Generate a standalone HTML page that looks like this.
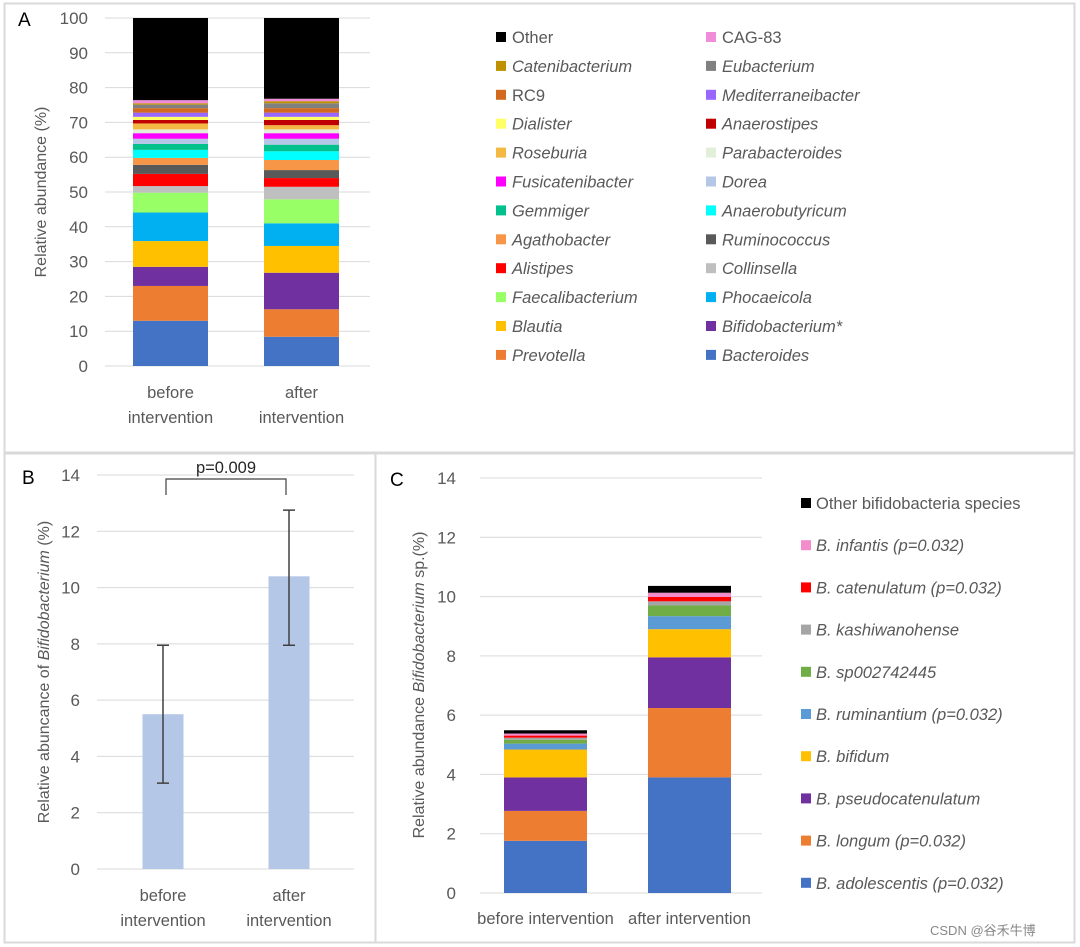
<!DOCTYPE html>
<html><head><meta charset="utf-8">
<style>
html,body{margin:0;padding:0;background:#fff;}
svg{display:block;font-family:"Liberation Sans",sans-serif;}
</style></head>
<body>
<svg id="fig" width="1080" height="947" viewBox="0 0 1080 947">
  <rect x="0" y="0" width="1080" height="947" fill="#fff"/>
  <rect x="4.5" y="3.5" width="1070" height="449" fill="none" stroke="#d9d9d9" stroke-width="2"/>
  <rect x="4.5" y="453.5" width="371" height="489" fill="none" stroke="#d9d9d9" stroke-width="2"/>
  <rect x="375.5" y="453.5" width="699" height="489" fill="none" stroke="#d9d9d9" stroke-width="2"/>
  <text x="18" y="26" font-size="19" fill="#000">A</text>
  <text x="22" y="484" font-size="19" fill="#000">B</text>
  <text x="390" y="486" font-size="19" fill="#000">C</text>
  <g id="ga"></g><g id="gb"></g><g id="gc"></g>
  <text x="930" y="935" font-size="13" fill="#888">CSDN @谷禾牛博</text>
</svg>
<script>
// ---- Panel A data ----
const groupsA = ["before|intervention","after|intervention"];
const taxaA = ["Bacteroides","Prevotella","Bifidobacterium*","Blautia","Phocaeicola","Faecalibacterium","Collinsella","Alistipes","Ruminococcus","Agathobacter","Anaerobutyricum","Gemmiger","Dorea","Fusicatenibacter","Parabacteroides","Roseburia","Anaerostipes","Dialister","Mediterraneibacter","RC9","Eubacterium","Catenibacterium","CAG-83","Other"];
const beforeA = [13.0,10.0,5.5,7.4,8.2,5.7,1.9,3.5,2.6,2.0,2.3,1.7,1.5,1.6,1.1,1.7,1.0,0.9,1.2,1.3,1.0,0.4,0.9,23.6];
const afterA  = [8.4,7.9,10.5,7.7,6.5,6.9,3.6,2.5,2.3,2.9,2.5,1.9,1.7,1.6,1.1,1.2,1.5,0.9,1.2,1.3,1.4,0.6,0.7,23.2];
const ticksA = [0,10,20,30,40,50,60,70,80,90,100];
const colorsA = ["#4472C4","#ED7D31","#7030A0","#FFC000","#00B0F0","#99FF66","#BFBFBF","#FF0000","#595959","#F79646","#00FFFF","#00C08B","#B4C7E7","#FF00FF","#E2EFDA","#F4B942","#C00000","#FFFF66","#9966FF","#D2691E","#808080","#BF9000","#F08CD8","#000000"];
const plainA = ["Other","RC9","CAG-83"];

// ---- Panel B data ----
const groupsB = ["before|intervention","after|intervention"];
const meanB = [5.5,10.4];
const lowB = [3.05,7.95];
const highB = [7.95,12.75];
const ticksB = [0,2,4,6,8,10,12,14];

// ---- Panel C data ----
const groupsC = ["before intervention","after intervention"];
const speciesC = ["B. adolescentis (p=0.032)","B. longum (p=0.032)","B. pseudocatenulatum","B. bifidum","B. ruminantium (p=0.032)","B. sp002742445","B. kashiwanohense","B. catenulatum (p=0.032)","B. infantis (p=0.032)","Other bifidobacteria species"];
const beforeC = [1.76,1.01,1.13,0.94,0.2,0.13,0.07,0.07,0.07,0.11];
const afterC  = [3.9,2.34,1.71,0.95,0.44,0.36,0.14,0.15,0.14,0.23];
const ticksC = [0,2,4,6,8,10,12,14];
const colorsC = ["#4472C4","#ED7D31","#7030A0","#FFC000","#5B9BD5","#70AD47","#A5A5A5","#FF0000","#F28CCB","#000000"];

const NS="http://www.w3.org/2000/svg";
function mk(parent,tag,attrs,txt){const e=document.createElementNS(NS,tag);for(const k in attrs)e.setAttribute(k,attrs[k]);if(txt!==undefined)e.textContent=txt;parent.appendChild(e);return e;}

// ===== Panel A =====
(function(){
  const g=document.getElementById('ga');
  const y0=366,y1=18,vmax=100;
  const y=v=>y0-(y0-y1)*v/vmax;
  ticksA.forEach(t=>{
    const l=mk(g,'line',{x1:105,x2:370,y1:y(t),y2:y(t),stroke:'#d9d9d9','stroke-width':1});
    
    
    const tx=mk(g,'text',{x:88,y:y(t)+6,'text-anchor':'end','font-size':17,fill:'#595959'},String(t));
    
    
  });
  const yt=mk(g,'text',{transform:'translate(46,192) rotate(-90)','text-anchor':'middle','font-size':16,fill:'#595959'},'Relative abundance (%)');
  
  
  const series=[beforeA,afterA], xs=[133,264], bw=75;
  series.forEach((vals,gi)=>{
    let cum=0;
    vals.forEach((v,i)=>{
      const r=mk(g,'rect',{x:xs[gi],y:y(cum+v),width:bw,height:y(cum)-y(cum+v),fill:colorsA[i]});
      
      
      cum+=v;
    });
    const parts=groupsA[gi].split('|');
    parts.forEach((p,pi)=>{
      const t=mk(g,'text',{x:xs[gi]+bw/2,y:398+pi*25,'text-anchor':'middle','font-size':16.5,fill:'#595959'},p);
      
      
    });
  });
  const rev=taxaA.map((n,i)=>i).reverse();
  rev.forEach((idx,k)=>{
    const col=k%2,row=Math.floor(k/2);
    const lx=col?706:496, ly=37+row*28.9;
    const s=mk(g,'rect',{x:lx,y:ly-5,width:10,height:10,fill:colorsA[idx]});
    
    
    const name=taxaA[idx];
    const t=mk(g,'text',{x:lx+16,y:ly+6,'font-size':16.5,fill:'#595959','font-style':plainA.includes(name)?'normal':'italic'},name);
    
    
  });
})();

// ===== Panel B =====
(function(){
  const g=document.getElementById('gb');
  const y0=869,y1=475,vmax=14;
  const y=v=>y0-(y0-y1)*v/vmax;
  ticksB.forEach(t=>{
    const l=mk(g,'line',{x1:97,x2:354,y1:y(t),y2:y(t),stroke:'#d9d9d9','stroke-width':1});
    
    
    const tx=mk(g,'text',{x:80,y:y(t)+6,'text-anchor':'end','font-size':17,fill:'#595959'},String(t));
    
    
  });
  const yt=mk(g,'text',{transform:'translate(49,672) rotate(-90)','text-anchor':'middle','font-size':16,fill:'#595959'});
  
  
  mk(yt,'tspan',{},'Relative abuncance of ');
  mk(yt,'tspan',{'font-style':'italic'},'Bifidobacterium');
  mk(yt,'tspan',{},' (%)');
  const cx=[163,289], bw=41;
  meanB.forEach((m,i)=>{
    const r=mk(g,'rect',{x:cx[i]-bw/2,y:y(m),width:bw,height:y0-y(m),fill:'#B4C7E7'});
    
    
    const e=mk(g,'path',{d:`M${cx[i]} ${y(lowB[i])}V${y(highB[i])}M${cx[i]-6} ${y(lowB[i])}h12M${cx[i]-6} ${y(highB[i])}h12`,stroke:'#404040','stroke-width':1.5,fill:'none'});
    
    
    groupsB[i].split('|').forEach((p,pi)=>{
      const t=mk(g,'text',{x:cx[i],y:901+pi*25,'text-anchor':'middle','font-size':16.5,fill:'#595959'},p);
      
      
    });
  });
  const br=mk(g,'path',{d:'M166 495V479H286V495',stroke:'#404040','stroke-width':1.2,fill:'none'});
  
  
  const pt=mk(g,'text',{x:226,y:473,'text-anchor':'middle','font-size':16.5,fill:'#262626'},'p=0.009');
  
  
})();

// ===== Panel C =====
(function(){
  const g=document.getElementById('gc');
  const y0=893,y1=478,vmax=14;
  const y=v=>y0-(y0-y1)*v/vmax;
  ticksC.forEach(t=>{
    const l=mk(g,'line',{x1:480,x2:762,y1:y(t),y2:y(t),stroke:'#d9d9d9','stroke-width':1});
    
    
    const tx=mk(g,'text',{x:456,y:y(t)+6,'text-anchor':'end','font-size':17,fill:'#595959'},String(t));
    
    
  });
  const yt=mk(g,'text',{transform:'translate(424,685) rotate(-90)','text-anchor':'middle','font-size':16,fill:'#595959'});
  
  
  mk(yt,'tspan',{},'Relative abundance ');
  mk(yt,'tspan',{'font-style':'italic'},'Bifidobacterium');
  mk(yt,'tspan',{},' sp.(%)');
  const xs=[504,648], bw=83, series=[beforeC,afterC];
  series.forEach((vals,gi)=>{
    let cum=0;
    vals.forEach((v,i)=>{
      const r=mk(g,'rect',{x:xs[gi],y:y(cum+v),width:bw,height:y(cum)-y(cum+v),fill:colorsC[i]});
      
      
      cum+=v;
    });
    const t=mk(g,'text',{x:xs[gi]+bw/2,y:924,'text-anchor':'middle','font-size':16.5,fill:'#595959'},groupsC[gi]);
    
    
  });
  const n=speciesC.length;
  for(let k=0;k<n;k++){
    const idx=n-1-k, ly=503+k*42.2;
    const s=mk(g,'rect',{x:801,y:ly-5,width:10,height:10,fill:colorsC[idx]});
    
    
    const t=mk(g,'text',{x:816,y:ly+6,'font-size':16.5,fill:'#595959','font-style':idx===n-1?'normal':'italic'},speciesC[idx]);
    
    
  }
})();
</script>
</body></html>
